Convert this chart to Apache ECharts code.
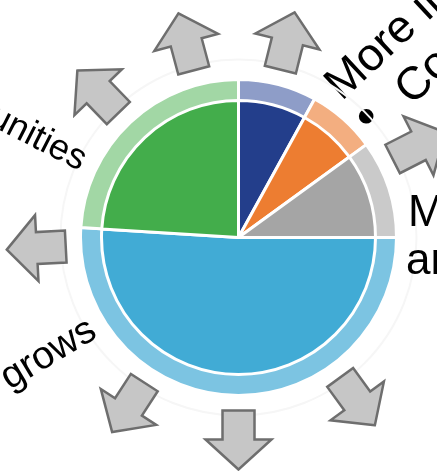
<!DOCTYPE html>
<html>
<head>
<meta charset="utf-8">
<script src="https://cdn.jsdelivr.net/npm/echarts@6/dist/echarts.min.js"></script>
<style>
  html, body { margin: 0; padding: 0; background: #fff; }
  #chart { width: 437px; height: 471px; }
</style>
</head>
<body>
<div id="chart"></div>
<script>
// Segment shares, clockwise from 12 o'clock
const categories = ['Navy', 'Orange', 'Gray', 'Blue', 'Green'];
const shares = [8, 7, 10, 51, 24];
const coreColors = ['#233e8b', '#ed7d31', '#a5a5a5', '#41abd5', '#43ad4b'];
const rimColors = ['#8e9dc8', '#f3ae80', '#cacaca', '#7cc4e2', '#a2d7a5'];

// Outward arrows: compass angle (degrees clockwise from up)
const arrowAngles = [-44, -15, 14, 63, 144, 180, 213, 267];

const cx = 238.5, cy = 237.5;
const outerR = 158, innerR = 137, arrowR = 202;

function arrowElement(deg) {
  const t = deg * Math.PI / 180;
  return {
    type: 'polygon',
    x: cx + arrowR * Math.sin(t),
    y: cy - arrowR * Math.cos(t),
    rotation: -t,
    shape: {
      points: [[0, -30], [33, 0], [16, 0], [16, 29], [-16, 29], [-16, 0], [-33, 0]]
    },
    style: { fill: '#c6c6c6', stroke: '#6e6e6e', lineWidth: 2.5, lineJoin: 'miter' },
    z: 5
  };
}

const font = (s) => s + 'px "Liberation Sans", Arial, sans-serif';
const rad = (d) => d * Math.PI / 180;
const txt = (text, size, x, y, align) => ({
  type: 'text', x: x, y: y,
  style: { text: text, font: font(size), fill: '#000', textAlign: align || 'left', textVerticalAlign: 'middle' }
});

const graphics = arrowAngles.map(arrowElement);
graphics.push({
  type: 'circle', shape: { cx: cx, cy: cy, r: 178 },
  style: { fill: 'none', stroke: '#f6f6f6', lineWidth: 2 }, z: 1
});
graphics.push({
  type: 'group', x: 344, y: 104, rotation: rad(43), z: 10,
  children: [
    txt('More in', 46, 0, -16),
    txt('•', 54, 8, 27, 'center'),
    txt('Con', 46, 48, 35)
  ]
});
graphics.push(Object.assign(txt('opportunities', 36, 84, 162, 'right'), { rotation: rad(-27), z: 10 }));
graphics.push(Object.assign(txt('grows', 39, 4, 381), { rotation: rad(31), z: 10 }));
graphics.push(Object.assign(txt('M', 44, 408, 214), { z: 10 }));
graphics.push(Object.assign(txt('an', 44, 406, 262), { z: 10 }));

const chart = echarts.init(document.getElementById('chart'), null, { renderer: 'canvas' });
chart.setOption({
  animation: false,
  backgroundColor: '#fff',
  graphic: graphics,
  series: [
    {
      type: 'pie', center: [cx, cy], radius: [0, outerR],
      startAngle: 90, clockwise: true, silent: true,
      label: { show: false }, labelLine: { show: false },
      itemStyle: { borderColor: '#fff', borderWidth: 3 },
      data: categories.map((n, i) => ({ name: n, value: shares[i], itemStyle: { color: rimColors[i] } })),
      z: 2
    },
    {
      type: 'pie', center: [cx, cy], radius: [0, innerR],
      startAngle: 90, clockwise: true, silent: true,
      label: { show: false }, labelLine: { show: false },
      itemStyle: { borderColor: '#fff', borderWidth: 3 },
      data: categories.map((n, i) => ({ name: n, value: shares[i], itemStyle: { color: coreColors[i] } })),
      z: 3
    }
  ]
});
</script>
</body>
</html>
